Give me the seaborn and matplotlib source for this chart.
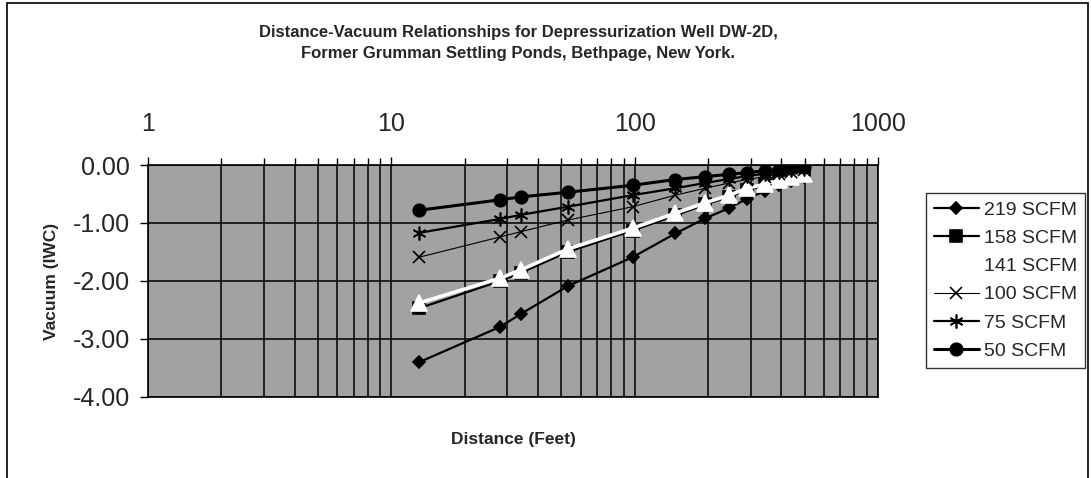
import numpy as np
import pandas as pd
import matplotlib
matplotlib.use("Agg")
import matplotlib.pyplot as plt
import matplotlib.ticker as mticker
from matplotlib.patches import Rectangle
import seaborn as sns

# ── Datos ─────────────────────────────────────────────────────────────────────
distancia = [13, 28, 34, 53, 98, 147, 195, 245, 290, 343, 390, 440, 495]

vac_219 = [-3.40, -2.79, -2.57, -2.09, -1.59, -1.18, -0.92, -0.74, -0.58, -0.45, -0.35, -0.27, -0.20]
vac_158 = [-2.47, -2.00, -1.86, -1.50, -1.13, -0.87, -0.68, -0.55, -0.43, -0.35, -0.28, -0.22, -0.17]
vac_141 = [-2.38, -1.95, -1.81, -1.45, -1.09, -0.83, -0.65, -0.52, -0.40, -0.33, -0.26, -0.20, -0.15]
vac_100 = [-1.59, -1.24, -1.15, -0.95, -0.72, -0.52, -0.40, -0.31, -0.25, -0.20, -0.15, -0.12, -0.09]
vac_75  = [-1.17, -0.93, -0.86, -0.72, -0.52, -0.40, -0.31, -0.24, -0.19, -0.15, -0.12, -0.09, -0.07]
vac_50  = [-0.78, -0.60, -0.55, -0.47, -0.35, -0.25, -0.20, -0.16, -0.13, -0.10, -0.08, -0.06, -0.04]

series = ["219 SCFM", "158 SCFM", "141 SCFM", "100 SCFM", "75 SCFM", "50 SCFM"]
valores = [vac_219, vac_158, vac_141, vac_100, vac_75, vac_50]

x_ticks = [1, 10, 100, 1000]
y_ticks = [0, -1, -2, -3, -4]

# estilo de cada serie: color, marcador, tamaño, ancho de línea
estilos = {
    "219 SCFM": dict(color="black", marker="D", markersize=6, linewidth=1.6, mec="black"),
    "158 SCFM": dict(color="black", marker="s", markersize=8, linewidth=1.6, mec="black"),
    "141 SCFM": dict(color="white", marker="^", markersize=11, linewidth=2.6, mec="white"),
    "100 SCFM": dict(color="black", marker="x", markersize=8, linewidth=0.8, mec="black"),
    "75 SCFM":  dict(color="black", marker=(6, 2, 0), markersize=10, linewidth=1.6, mec="black"),
    "50 SCFM":  dict(color="black", marker="o", markersize=9, linewidth=2.2, mec="black"),
}

sns.set_style("white")
plt.rcParams["font.family"] = ["Liberation Sans", "DejaVu Sans"]

fig = plt.figure(figsize=(10.91, 4.78), dpi=100)
ax = fig.add_axes([0.1357, 0.1695, 0.6691, 0.4853])
ax.set_facecolor("#a2a2a2")

for nombre, vals in zip(series, valores):
    st = estilos[nombre]
    sns.lineplot(x=distancia, y=vals, ax=ax, label=nombre, color=st["color"],
                 marker=st["marker"], markersize=st["markersize"], linewidth=st["linewidth"],
                 markeredgecolor=st["mec"], markeredgewidth=1.2, zorder=3)

# ── Ejes ──────────────────────────────────────────────────────────────────────
ax.set_xscale("log")
ax.set_xlim(1, 1000)
ax.set_ylim(-4, 0)
ax.xaxis.tick_top()
ax.xaxis.set_label_position("bottom")
ax.xaxis.set_major_locator(mticker.FixedLocator(x_ticks))
ax.xaxis.set_major_formatter(mticker.FixedFormatter([str(v) for v in x_ticks]))
ax.xaxis.set_minor_locator(mticker.LogLocator(base=10, subs=np.arange(2, 10)))
ax.xaxis.set_minor_formatter(mticker.NullFormatter())
ax.set_yticks(y_ticks)
ax.yaxis.set_major_formatter(mticker.FormatStrFormatter("%.2f"))

ax.tick_params(axis="x", which="major", top=True, bottom=False, length=6, width=1,
               labelsize=18, pad=15, direction="out", color="black")
ax.tick_params(axis="x", which="minor", top=True, bottom=False, length=5, width=1,
               direction="out", color="black")
ax.tick_params(axis="y", which="major", left=True, length=6, width=1, labelsize=18,
               pad=7, direction="out", color="black")

ax.grid(True, which="major", axis="both", color="black", linewidth=1.1)
ax.grid(True, which="minor", axis="x", color="black", linewidth=1.1)
ax.set_axisbelow(True)
for s in ax.spines.values():
    s.set_color("black")
    s.set_linewidth(1.2)

ax.set_xlabel("Distance (Feet)", fontsize=12.5, fontweight="bold", labelpad=25)
ax.set_ylabel("Vacuum (IWC)", fontsize=12.5, fontweight="bold", labelpad=10)

fig.text(0.475, 0.933, "Distance-Vacuum Relationships for Depressurization Well DW-2D,",
         ha="center", va="center", fontsize=12, fontweight="bold")
fig.text(0.475, 0.889, "Former Grumman Settling Ponds, Bethpage, New York.",
         ha="center", va="center", fontsize=12, fontweight="bold")

leg = ax.legend(loc="upper left", bbox_to_anchor=(0.849, 0.596), bbox_transform=fig.transFigure,
                fontsize=14, frameon=True, fancybox=False, edgecolor="black",
                labelspacing=0.55, handlelength=2.3, handletextpad=0.25, borderpad=0.4,
                borderaxespad=0)
leg.get_frame().set_linewidth(1.0)

# marco exterior de la figura
fig.patches.append(Rectangle((0.0064, -0.05), 0.991, 1.0437, transform=fig.transFigure,
                             fill=False, edgecolor="black", linewidth=1.2))

fig.savefig("out.png", dpi=100)
